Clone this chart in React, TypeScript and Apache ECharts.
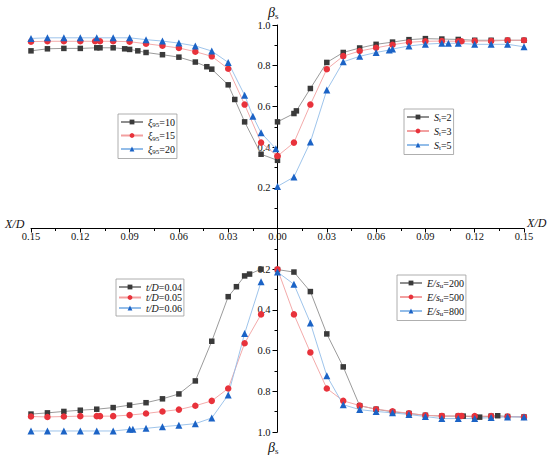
import React, { useEffect, useRef } from "react";
import * as echarts from "echarts";

const SERIF = "'Liberation Serif', 'Times New Roman', serif";

// ---- Top-left: xi95 series (X/D magnitude to the left, beta_s upward)
const xi10X = [0.15, 0.14, 0.13, 0.12, 0.11, 0.108, 0.1, 0.093, 0.09, 0.085, 0.08, 0.07, 0.06, 0.05, 0.043, 0.04, 0.03, 0.026, 0.02, 0.01, 0];
const xi10B = [0.873, 0.883, 0.885, 0.885, 0.888, 0.888, 0.888, 0.883, 0.88, 0.873, 0.865, 0.854, 0.842, 0.818, 0.795, 0.783, 0.706, 0.634, 0.524, 0.365, 0.335];
const xi15X = [0.15, 0.14, 0.13, 0.12, 0.111, 0.108, 0.1, 0.09, 0.08, 0.07, 0.06, 0.05, 0.04, 0.03, 0.02, 0.01, 0];
const xi15B = [0.918, 0.92, 0.92, 0.92, 0.92, 0.92, 0.92, 0.918, 0.908, 0.898, 0.887, 0.869, 0.846, 0.785, 0.609, 0.422, 0.356];
const xi20X = [0.15, 0.14, 0.13, 0.12, 0.11, 0.1, 0.09, 0.08, 0.07, 0.06, 0.05, 0.04, 0.03, 0.02, 0.015, 0.01, 0.001];
const xi20B = [0.934, 0.937, 0.937, 0.937, 0.937, 0.937, 0.937, 0.928, 0.921, 0.911, 0.897, 0.872, 0.816, 0.655, 0.552, 0.47, 0.392];

// ---- Top-right: S_t series
const st2X = [0, 0.01, 0.0115, 0.02, 0.03, 0.04, 0.05, 0.06, 0.07, 0.08, 0.09, 0.1, 0.11, 0.12, 0.13, 0.14, 0.15];
const st2B = [0.524, 0.565, 0.578, 0.688, 0.816, 0.865, 0.887, 0.905, 0.916, 0.928, 0.933, 0.931, 0.929, 0.925, 0.925, 0.925, 0.925];
const st3X = [0, 0.01, 0.02, 0.03, 0.04, 0.05, 0.06, 0.07, 0.08, 0.09, 0.1, 0.11, 0.112, 0.12, 0.13, 0.14, 0.15];
const st3B = [0.356, 0.422, 0.609, 0.783, 0.847, 0.872, 0.888, 0.903, 0.915, 0.92, 0.921, 0.92, 0.92, 0.921, 0.921, 0.925, 0.925];
const st5X = [0, 0.01, 0.02, 0.03, 0.04, 0.05, 0.06, 0.068, 0.07, 0.08, 0.09, 0.1, 0.104, 0.11, 0.12, 0.13, 0.14, 0.15];
const st5B = [0.207, 0.253, 0.425, 0.68, 0.819, 0.846, 0.865, 0.877, 0.882, 0.897, 0.906, 0.91, 0.91, 0.91, 0.905, 0.905, 0.905, 0.893];

// ---- Bottom-left: t/D series (beta_s downward)
const t04X = [0.15, 0.14, 0.13, 0.12, 0.11, 0.1, 0.09, 0.08, 0.07, 0.06, 0.05, 0.04, 0.03, 0.025, 0.02, 0.017, 0.01];
const t04B = [0.912, 0.906, 0.899, 0.893, 0.888, 0.88, 0.868, 0.856, 0.837, 0.813, 0.749, 0.554, 0.335, 0.286, 0.233, 0.224, 0.2];
const t05X = [0.15, 0.14, 0.13, 0.12, 0.11, 0.108, 0.1, 0.09, 0.08, 0.07, 0.06, 0.05, 0.04, 0.03, 0.02, 0.01];
const t05B = [0.924, 0.926, 0.924, 0.922, 0.922, 0.922, 0.922, 0.917, 0.909, 0.899, 0.89, 0.871, 0.847, 0.786, 0.564, 0.422];
const t06X = [0.15, 0.14, 0.13, 0.12, 0.11, 0.1, 0.09, 0.088, 0.08, 0.07, 0.06, 0.05, 0.04, 0.03, 0.02, 0.01];
const t06B = [0.995, 0.995, 0.995, 0.995, 0.995, 0.995, 0.987, 0.987, 0.982, 0.974, 0.967, 0.959, 0.931, 0.818, 0.516, 0.262];

// ---- Bottom-right: E/s_u series
const e200X = [0, 0.01, 0.02, 0.03, 0.04, 0.05, 0.06, 0.07, 0.08, 0.09, 0.1, 0.11, 0.113, 0.12, 0.123, 0.13, 0.134, 0.14, 0.15];
const e200B = [0.202, 0.214, 0.31, 0.518, 0.68, 0.871, 0.888, 0.901, 0.909, 0.918, 0.922, 0.922, 0.922, 0.926, 0.927, 0.922, 0.92, 0.924, 0.926];
const e500X = [0, 0.01, 0.02, 0.03, 0.04, 0.05, 0.06, 0.07, 0.08, 0.09, 0.1, 0.11, 0.112, 0.12, 0.13, 0.14, 0.15];
const e500B = [0.2, 0.422, 0.609, 0.786, 0.847, 0.87, 0.888, 0.898, 0.908, 0.918, 0.921, 0.921, 0.921, 0.922, 0.922, 0.924, 0.926];
const e800X = [0, 0.01, 0.02, 0.03, 0.04, 0.05, 0.06, 0.07, 0.08, 0.09, 0.1, 0.11, 0.12, 0.13, 0.14, 0.15];
const e800B = [0.214, 0.274, 0.464, 0.724, 0.866, 0.89, 0.899, 0.906, 0.914, 0.924, 0.934, 0.934, 0.934, 0.929, 0.926, 0.926];

const legendLabels: Record<string, string> = {
  xi10: "{i|ξ}{sub|95}{n|=10}",
  xi15: "{i|ξ}{sub|95}{n|=15}",
  xi20: "{i|ξ}{sub|95}{n|=20}",
  st2: "{i|S}{sub|t}{n|=2}",
  st3: "{i|S}{sub|t}{n|=3}",
  st5: "{i|S}{sub|t}{n|=5}",
  t04: "{i|t/D}{n|=0.04}",
  t05: "{i|t/D}{n|=0.05}",
  t06: "{i|t/D}{n|=0.06}",
  e200: "{i|E/s}{sub|u}{n|=200}",
  e500: "{i|E/s}{sub|u}{n|=500}",
  e800: "{i|E/s}{sub|u}{n|=800}",
};

const BLACK = { symbol: "rect", size: 5.5, item: "#3a3a3a", line: "#8e8e8e" };
const RED = { symbol: "circle", size: 6.5, item: "#e8323b", line: "#f2a0a0" };
const BLUE = { symbol: "triangle", size: 7, item: "#1b63c6", line: "#93bde9" };

function mkSeries(name: string, xs: number[], bs: number[], sx: number, sy: number, st: any) {
  return {
    name,
    type: "line",
    data: xs.map((x, i) => [sx * x, sy * bs[i]]),
    symbol: st.symbol,
    symbolSize: st.size,
    showAllSymbol: true,
    itemStyle: { color: st.item },
    lineStyle: { color: st.line, width: 0.9 },
    emphasis: { disabled: true },
    z: 3,
  };
}

const rich = {
  i: { fontFamily: SERIF, fontStyle: "italic", fontSize: 10, lineHeight: 13, color: "#111" },
  n: { fontFamily: SERIF, fontSize: 10, lineHeight: 13, color: "#111" },
  sub: { fontFamily: SERIF, fontSize: 7, lineHeight: 13, verticalAlign: "bottom", color: "#111" },
};

function mkLegend(names: string[], left: number, top: number, gap: number) {
  return {
    orient: "vertical",
    left,
    top,
    data: names,
    itemWidth: 22,
    itemHeight: 6,
    itemGap: gap,
    padding: [3, 2, 3, 2],
    borderColor: "#9a9a9a",
    borderWidth: 0.8,
    backgroundColor: "#ffffff",
    selectedMode: false,
    textStyle: { fontFamily: SERIF, fontSize: 10, color: "#111", rich },
    formatter: (name: string) => legendLabels[name],
  };
}

const nameRich = {
  b: { fontFamily: SERIF, fontStyle: "italic", fontSize: 14, lineHeight: 16, fill: "#111" },
  s: { fontFamily: SERIF, fontSize: 9, lineHeight: 16, verticalAlign: "bottom", fill: "#111" },
};

export default function App() {
  const ref = useRef<HTMLDivElement>(null);
  useEffect(() => {
    if (!ref.current) return;
    const chart = echarts.init(ref.current, null, { renderer: "svg" });
    const option: any = {
      animation: false,
      backgroundColor: "#ffffff",
      grid: { left: 31, right: 26, top: 25, bottom: 24, outerBoundsMode: "none" },
      xAxis: {
        type: "value",
        min: -0.15,
        max: 0.15,
        interval: 0.03,
        position: "bottom",
        offset: -203.5,
        axisLine: { onZero: false, lineStyle: { color: "#000", width: 1 } },
        axisTick: { show: true, length: 4, lineStyle: { color: "#000", width: 1 } },
        minorTick: { show: true, splitNumber: 2, length: 2.5, lineStyle: { color: "#000", width: 1 } },
        splitLine: { show: false },
        axisLabel: {
          fontFamily: SERIF,
          fontSize: 10.5,
          color: "#111",
          margin: 2,
          formatter: (v: number) => Math.abs(v).toFixed(2),
        },
      },
      yAxis: {
        type: "value",
        min: -1,
        max: 1,
        interval: 0.2,
        position: "left",
        offset: -246.5,
        axisLine: { onZero: false, lineStyle: { color: "#000", width: 1 } },
        axisTick: { show: true, length: 5, lineStyle: { color: "#000", width: 1 } },
        minorTick: { show: true, splitNumber: 2, length: 3, lineStyle: { color: "#000", width: 1 } },
        splitLine: { show: false },
        axisLabel: {
          fontFamily: SERIF,
          fontSize: 10.5,
          color: "#111",
          margin: 7,
          formatter: (v: number) => (Math.abs(v) < 1e-9 ? "" : Math.abs(v).toFixed(1)),
        },
      },
      legend: [
        mkLegend(["xi10", "xi15", "xi20"], 118, 114, 2),
        mkLegend(["st2", "st3", "st5"], 404, 109, 2.5),
        mkLegend(["t04", "t05", "t06"], 116, 279, 0.5),
        mkLegend(["e200", "e500", "e800"], 397, 275, 2.5),
      ],
      graphic: [
        { type: "text", left: 268, top: 5, style: { text: "{b|β}{s|s}", rich: nameRich } },
        { type: "text", left: 268, top: 440, style: { text: "{b|β}{s|s}", rich: nameRich } },
        { type: "text", left: 5, top: 218, style: { text: "X/D", fontFamily: SERIF, fontStyle: "italic", fontSize: 12, fill: "#111" } },
        { type: "text", left: 527, top: 217, style: { text: "X/D", fontFamily: SERIF, fontStyle: "italic", fontSize: 12, fill: "#111" } },
      ],
      series: [
        mkSeries("xi10", xi10X, xi10B, -1, 1, BLACK),
        mkSeries("xi15", xi15X, xi15B, -1, 1, RED),
        mkSeries("xi20", xi20X, xi20B, -1, 1, BLUE),
        mkSeries("st2", st2X, st2B, 1, 1, BLACK),
        mkSeries("st3", st3X, st3B, 1, 1, RED),
        mkSeries("st5", st5X, st5B, 1, 1, BLUE),
        mkSeries("t04", t04X, t04B, -1, -1, BLACK),
        mkSeries("t05", t05X, t05B, -1, -1, RED),
        mkSeries("t06", t06X, t06B, -1, -1, BLUE),
        mkSeries("e200", e200X, e200B, 1, -1, BLACK),
        mkSeries("e500", e500X, e500B, 1, -1, RED),
        mkSeries("e800", e800X, e800B, 1, -1, BLUE),
      ],
    };
    chart.setOption(option);
    return () => chart.dispose();
  }, []);
  return (
    <div
      ref={ref}
      style={{ position: "fixed", left: 0, top: 0, width: 550, height: 456, background: "#fff" }}
    />
  );
}
